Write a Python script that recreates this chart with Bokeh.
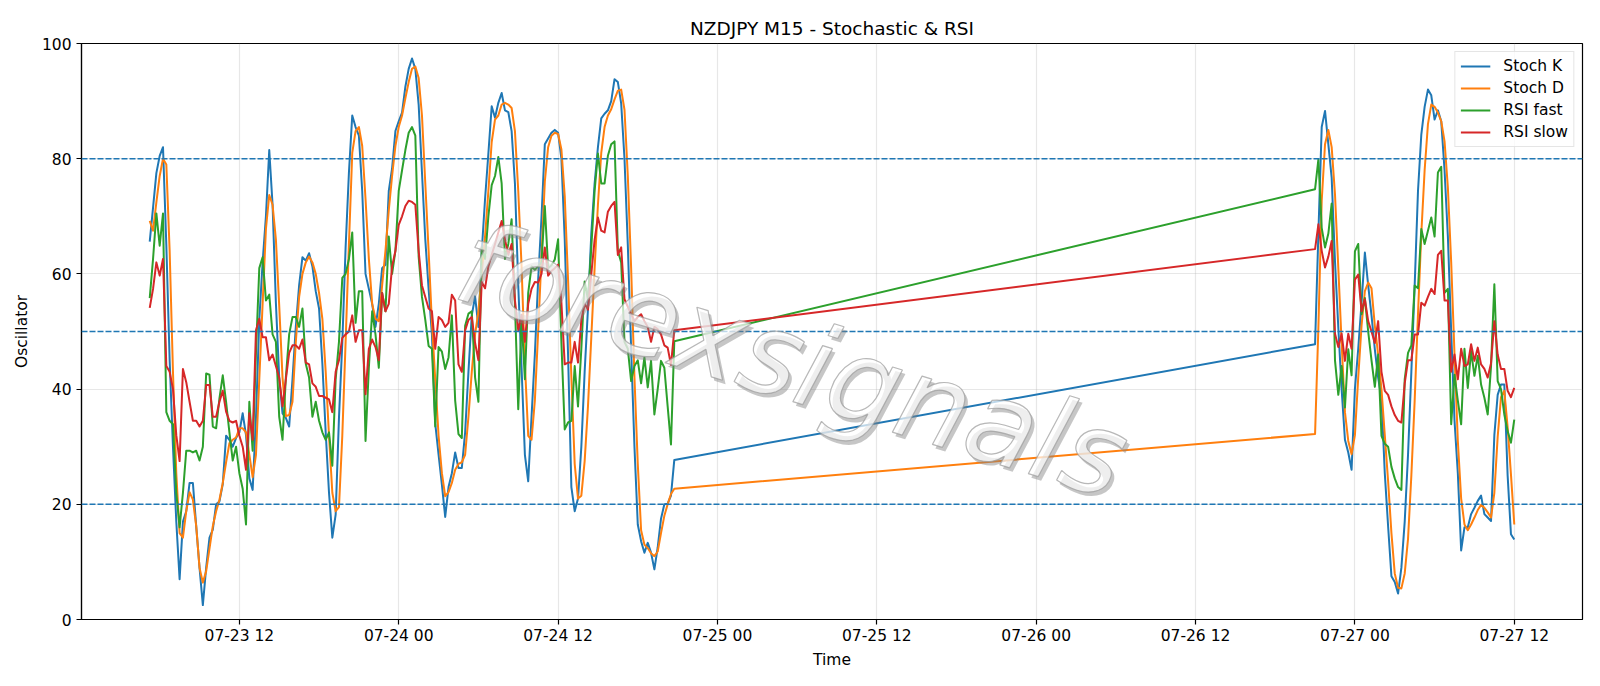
import pandas as pd
from bokeh.plotting import figure
from bokeh.models import ColumnDataSource, FixedTicker, Span, Label, Range1d
from bokeh.embed import file_html
from bokeh.resources import INLINE

# ---------------- data ----------------
seg1_start = "2026-07-23 05:15"   # Thursday/Friday session
seg2_start = "2026-07-26 21:00"   # Sunday re-open
bar_freq = "15min"

stoch_k_1 = [65.6, 71.5, 77.5, 80.5, 82.0, 65.0, 45.0, 30.0, 17.0, 7.0,
             17.0, 18.8, 23.7, 23.7, 16.2, 9.0, 2.5, 9.0, 14.2, 15.6,
             20.0, 20.5, 23.5, 31.9, 31.2, 30.0, 31.5, 32.5, 35.8, 32.0,
             24.5, 22.5, 35.0, 52.0, 62.0, 70.0, 81.5, 72.0, 55.0, 42.0,
             35.8, 35.0, 33.5, 41.7, 50.8, 58.0, 62.9, 62.3, 63.6, 61.3,
             57.0, 54.0, 44.4, 32.5, 22.0, 14.2, 18.2, 35.0, 48.0, 64.6,
             77.6, 87.5, 85.5, 84.0, 74.4, 60.0, 57.4, 54.8, 50.8, 54.8,
             61.0, 61.6, 74.4, 78.3, 84.8, 86.5, 88.0, 92.5, 95.6, 97.4,
             95.6, 89.4, 77.6, 66.0, 57.4, 49.5, 34.0, 28.6, 23.4, 17.8,
             23.0, 25.4, 29.0, 26.3, 26.3, 32.5, 43.0, 52.8, 56.1, 50.8,
             63.9, 73.0, 80.9, 89.1, 87.1, 89.7, 91.4, 88.4, 88.1, 84.8,
             75.7, 58.0, 43.7, 28.6, 24.0, 35.2, 46.0, 59.0, 69.8, 82.5,
             83.5, 84.5, 85.0, 84.5, 80.0, 66.0, 46.0, 23.0, 18.8, 21.0,
             30.0, 43.0, 54.0, 67.0, 75.7, 82.0, 87.0, 87.8, 88.4, 90.0,
             93.8, 93.3, 89.6, 80.0, 65.0, 47.0, 30.0, 16.5, 13.6, 11.6,
             13.3, 11.6, 8.7, 12.5, 17.5, 20.0, 20.1, 21.5, 27.7]
stoch_d_1 = [69.2, 67.5, 72.4, 77.0, 80.0, 79.0, 64.0, 43.0, 25.4, 15.0,
             14.2, 18.8, 22.1, 20.8, 16.2, 9.0, 6.4, 8.4, 12.3, 16.2,
             18.8, 20.8, 23.7, 27.3, 30.6, 31.2, 31.6, 33.2, 33.2, 32.5,
             28.6, 24.7, 28.6, 41.7, 54.8, 67.8, 73.7, 72.0, 66.0, 54.5,
             42.0, 35.3, 35.5, 37.8, 48.2, 56.0, 60.0, 62.0, 63.0, 62.0,
             60.0, 56.7, 52.2, 43.0, 31.9, 22.0, 18.8, 19.5, 31.9, 48.2,
             65.2, 81.0, 84.8, 85.5, 82.2, 73.0, 62.6, 54.8, 52.2, 51.8,
             58.0, 64.0, 71.0, 77.0, 82.2, 85.5, 87.5, 90.5, 93.3, 95.6,
             96.0, 94.0, 87.5, 75.7, 64.0, 51.5, 41.7, 31.9, 25.4, 21.4,
             22.1, 23.7, 26.0, 27.0, 27.3, 28.6, 35.2, 43.0, 49.5, 53.5,
             60.0, 66.5, 74.4, 82.9, 86.8, 87.5, 89.4, 89.7, 89.4, 88.8,
             84.8, 74.4, 61.3, 44.4, 31.9, 31.2, 38.0, 50.0, 63.0, 76.0,
             82.0, 84.0, 84.5, 84.3, 81.6, 73.5, 59.0, 42.0, 27.0, 21.0,
             21.5, 27.5, 37.0, 49.0, 61.0, 72.0, 81.0, 85.5, 87.5, 88.6,
             90.3, 91.8, 92.0, 88.5, 77.0, 61.0, 42.0, 27.0, 15.5, 13.0,
             12.4, 11.5, 11.0, 11.8, 15.0, 18.0, 20.0, 21.8, 22.7]
rsi_fast_1 = [55.8, 62.6, 70.5, 64.9, 70.5, 36.0, 34.5, 33.9, 22.0, 16.0,
              22.0, 29.3, 29.3, 29.0, 29.3, 27.6, 30.0, 42.7, 42.5, 33.5,
              33.2, 38.4, 42.4, 37.8, 32.5, 27.6, 30.0, 25.4, 22.7, 16.5,
              37.8, 29.3, 46.3, 61.0, 62.9, 55.4, 56.4, 49.5, 48.2, 35.2,
              31.2, 42.0, 49.5, 52.5, 52.5, 50.8, 54.0, 44.4, 42.0, 35.2,
              37.8, 34.5, 32.5, 31.2, 32.5, 26.7, 41.7, 48.2, 59.3, 60.0,
              62.6, 67.2, 51.5, 57.0, 57.0, 31.0, 43.7, 53.5, 49.5, 43.7,
              56.7, 53.5, 66.5, 60.0, 64.0, 74.4, 78.0, 81.5, 84.5, 85.5,
              84.0, 63.0, 56.0, 52.0, 47.5, 47.0, 33.5, 47.3, 46.5, 43.5,
              45.5, 52.8, 38.0, 32.2, 31.5, 51.0, 53.1, 53.5, 42.0, 37.8,
              64.6, 62.6, 70.0, 75.4, 77.0, 80.3, 75.7, 62.6, 65.2, 69.5,
              54.8, 36.5, 52.2, 41.7, 56.7, 61.3, 60.7, 61.3, 62.0, 71.8,
              61.0, 61.5, 62.5, 66.0, 48.0, 33.0, 34.2, 34.5, 44.0, 37.0,
              47.0, 58.7, 55.5, 64.6, 74.4, 80.9, 75.7, 75.7, 80.5, 82.5,
              83.0, 64.0, 62.0, 48.2, 47.0, 41.4, 44.0, 45.0, 41.0, 45.5,
              40.3, 44.9, 35.6, 40.0, 44.9, 43.7, 37.0, 30.4, 48.3]
rsi_slow_1 = [54.1, 57.4, 62.0, 59.7, 62.6, 44.0, 43.0, 40.0, 32.0, 27.5,
              43.5, 41.2, 37.8, 34.5, 34.5, 33.5, 34.5, 40.7, 40.7, 35.2,
              35.2, 37.8, 39.7, 36.1, 34.5, 34.2, 34.5, 31.9, 30.0, 26.0,
              35.8, 31.2, 50.2, 52.2, 49.0, 49.0, 45.0, 46.0, 44.0, 42.0,
              37.0, 41.7, 46.3, 47.6, 47.6, 47.0, 48.6, 44.6, 44.3, 41.0,
              40.4, 38.8, 38.8, 38.5, 38.2, 36.0, 43.0, 45.0, 48.9, 49.5,
              50.0, 52.8, 48.2, 50.2, 50.2, 39.1, 47.0, 48.6, 47.3, 45.0,
              56.7, 53.5, 54.8, 61.3, 64.0, 68.5, 70.0, 71.8, 72.7, 72.5,
              72.0, 64.0, 58.0, 56.0, 54.0, 53.5, 47.0, 52.5, 52.0, 50.8,
              51.5, 56.4, 55.4, 44.3, 43.0, 50.2, 52.0, 52.5, 48.0, 45.0,
              58.6, 57.5, 61.3, 63.3, 65.2, 67.2, 69.2, 66.0, 63.3, 65.2,
              55.4, 50.2, 52.9, 48.2, 54.8, 57.4, 58.6, 58.5, 60.0, 64.6,
              59.7, 60.5, 61.0, 61.6, 55.0, 44.3, 44.6, 44.6, 48.2, 44.6,
              52.0, 54.8, 53.8, 60.0, 65.9, 69.8, 67.5, 67.2, 70.8, 71.8,
              72.5, 63.3, 64.6, 55.6, 54.3, 53.0, 51.8, 52.5, 53.0, 51.8,
              50.8, 48.2, 50.8, 50.4, 49.5, 47.6, 47.2, 44.2, 50.2]

stoch_k_2 = [47.8, 67.0, 85.5, 88.3, 82.5, 76.7, 62.2, 50.7, 40.0, 31.2,
             29.0, 26.0, 40.0, 47.0, 55.0, 63.7, 58.0, 52.8, 46.9, 42.0,
             38.4, 25.4, 16.2, 7.5, 6.5, 4.5, 9.0, 17.0, 28.6, 43.0,
             58.0, 74.4, 84.2, 89.0, 92.0, 91.0, 86.8, 88.4, 86.5, 78.0,
             66.5, 50.0, 34.5, 25.4, 12.0, 16.0, 16.0, 18.3, 19.4, 20.6,
             21.5, 18.3, 17.7, 17.1, 32.0, 39.0, 40.8, 40.8, 25.0, 14.8, 13.9]
stoch_d_2 = [32.2, 50.7, 72.7, 82.5, 85.0, 82.0, 73.8, 61.0, 48.0, 36.0,
             31.0, 28.7, 32.0, 42.0, 51.0, 57.0, 58.5, 57.5, 51.0, 46.0,
             40.0, 32.0, 24.0, 15.0, 8.0, 5.5, 5.4, 8.0, 14.0, 25.0,
             38.0, 53.0, 67.0, 78.0, 86.0, 89.4, 89.0, 88.0, 86.5, 83.0,
             75.0, 62.0, 46.0, 31.0, 21.0, 16.5, 15.5, 16.5, 17.7, 19.0,
             19.9, 19.4, 18.6, 17.7, 22.0, 31.7, 38.6, 39.7, 33.4, 25.2, 16.5]
rsi_fast_2 = [74.7, 79.9, 68.0, 64.6, 67.0, 72.2, 45.0, 39.0, 44.0, 36.8,
              46.9, 42.4, 63.9, 65.2, 53.0, 55.8, 50.0, 45.0, 40.4, 46.0,
              31.9, 30.5, 30.0, 26.5, 24.5, 23.0, 22.5, 41.7, 46.3, 47.6,
              58.0, 57.5, 67.8, 65.2, 67.5, 69.8, 66.5, 77.6, 78.6, 56.7,
              57.4, 33.9, 42.5, 38.0, 33.9, 47.0, 40.2, 46.6, 42.3, 45.8,
              40.8, 38.5, 35.6, 44.0, 58.2, 41.4, 40.0, 35.6, 32.7, 30.7, 34.7]
rsi_slow_2 = [64.3, 68.6, 64.0, 61.1, 63.0, 65.7, 49.6, 47.3, 49.6, 44.9,
              49.6, 47.0, 59.0, 59.9, 53.5, 55.6, 51.8, 50.0, 48.0, 51.8,
              43.0, 39.7, 39.0, 37.0, 35.5, 34.5, 34.2, 41.0, 45.0, 45.0,
              49.5, 49.5, 55.0, 54.5, 56.0, 57.4, 56.5, 63.3, 64.0, 55.4,
              55.4, 43.0, 46.0, 41.7, 47.0, 44.0, 44.3, 47.8, 44.9, 47.2,
              44.3, 43.5, 42.0, 44.5, 51.8, 46.0, 43.5, 43.5, 39.7, 38.6, 40.2]

series_names = ["Stoch K", "Stoch D", "RSI fast", "RSI slow"]
series_colors = ["#1f77b4", "#ff7f0e", "#2ca02c", "#d62728"]
levels = [20, 50, 80]
y_ticks = [0, 20, 40, 60, 80, 100]
x_tick_start, x_tick_end, x_tick_step = "2026-07-23 12:00", "2026-07-27 12:00", "12h"

# ---------------- build ----------------
EPOCH = pd.Timestamp("1970-01-01")


def to_ms(ts):
    return (pd.Timestamp(ts) - EPOCH) / pd.Timedelta("1ms")


def series_times(n1, n2):
    t1 = pd.date_range(seg1_start, periods=n1, freq=bar_freq)
    t2 = pd.date_range(seg2_start, periods=n2, freq=bar_freq)
    return [to_ms(t) for t in t1] + [to_ms(t) for t in t2]


series_values = [
    (stoch_k_1, stoch_k_2),
    (stoch_d_1, stoch_d_2),
    (rsi_fast_1, rsi_fast_2),
    (rsi_slow_1, rsi_slow_2),
]

FONT = "DejaVu Sans"
TICK_FS = "15.5px"

all_x = series_times(len(stoch_k_1), len(stoch_k_2))
x_min, x_max = min(all_x), max(all_x)
pad = 0.05 * (x_max - x_min)

p = figure(width=1600, height=686, output_backend="svg", toolbar_location=None,
           x_axis_type="datetime",
           x_range=Range1d(x_min - pad, x_max + pad), y_range=Range1d(0, 100),
           min_border_left=81, min_border_right=18, min_border_top=43,
           min_border_bottom=67)
p.background_fill_color = "white"
p.border_fill_color = "white"
p.outline_line_color = "black"
p.outline_line_width = 1.2

# grid
tick_times = pd.date_range(x_tick_start, x_tick_end, freq=x_tick_step)
tick_ms = [to_ms(t) for t in tick_times]
p.xaxis.ticker = FixedTicker(ticks=tick_ms)
p.xaxis.major_label_overrides = {ms: t.strftime("%m-%d %H") for ms, t in zip(tick_ms, tick_times)}
p.yaxis.ticker = FixedTicker(ticks=y_ticks)
p.xgrid.ticker = FixedTicker(ticks=tick_ms)
p.ygrid.ticker = FixedTicker(ticks=y_ticks)
for g in (p.xgrid, p.ygrid):
    g.grid_line_color = "#b0b0b0"
    g.grid_line_alpha = 0.3
    g.grid_line_width = 1.2

# series lines
for (s1, s2), name, color in zip(series_values, series_names, series_colors):
    xs = series_times(len(s1), len(s2))
    src = ColumnDataSource(dict(t=xs, v=list(s1) + list(s2)))
    p.line("t", "v", source=src, line_color=color, line_width=2.0,
           line_join="round", legend_label=name)

# reference levels
for lv in levels:
    p.add_layout(Span(location=lv, dimension="width", line_color="#1f77b4",
                      line_dash="6 2", line_width=1.4))

# watermark
wm_x = to_ms("2026-07-25 05:40")
for kw in (dict(text_color="#808080", text_alpha=0.45, x_offset=3, y_offset=-4),
           dict(text_color="white", text_alpha=0.7, text_outline_color="#9a9a9a")):
    p.add_layout(Label(x=wm_x, y=45, text="forexsignals", angle=-17, angle_units="deg",
                       text_font=FONT, text_font_size="114px", text_font_style="italic",
                       text_align="center", text_baseline="middle", **kw))

# axes
for ax in (p.xaxis, p.yaxis):
    ax.axis_line_color = "black"
    ax.axis_line_width = 1.2
    ax.major_tick_line_color = "black"
    ax.major_tick_line_width = 1.2
    ax.major_tick_out = 5
    ax.major_tick_in = 0
    ax.minor_tick_line_color = None
    ax.major_label_text_font = FONT
    ax.major_label_text_font_size = TICK_FS
    ax.major_label_text_color = "black"
    ax.axis_label_text_font = FONT
    ax.axis_label_text_font_size = TICK_FS
    ax.axis_label_text_font_style = "normal"
    ax.axis_label_text_color = "black"
p.xaxis.axis_label = "Time"
p.yaxis.axis_label = "Oscillator"
p.xaxis.major_label_standoff = 2
p.yaxis.major_label_standoff = 5
p.xaxis.axis_label_standoff = 3
p.yaxis.axis_label_standoff = 8

# title
p.title.text = "NZDJPY M15 - Stochastic & RSI"
p.title.align = "center"
p.title.text_font = FONT
p.title.text_font_size = "18.5px"
p.title.text_font_style = "normal"
p.title.text_color = "black"
p.title.standoff = 10

# legend
lg = p.legend[0]
lg.location = "top_right"
lg.label_text_font = FONT
lg.label_text_font_size = TICK_FS
lg.label_text_color = "black"
lg.glyph_width = 30
lg.glyph_height = 16
lg.label_height = 16
lg.label_standoff = 13
lg.spacing = 4
lg.padding = 5
lg.margin = 8
lg.border_line_color = "#cccccc"
lg.border_line_width = 1
lg.background_fill_alpha = 0.8

open("out.html", "w").write(file_html(p, INLINE))
